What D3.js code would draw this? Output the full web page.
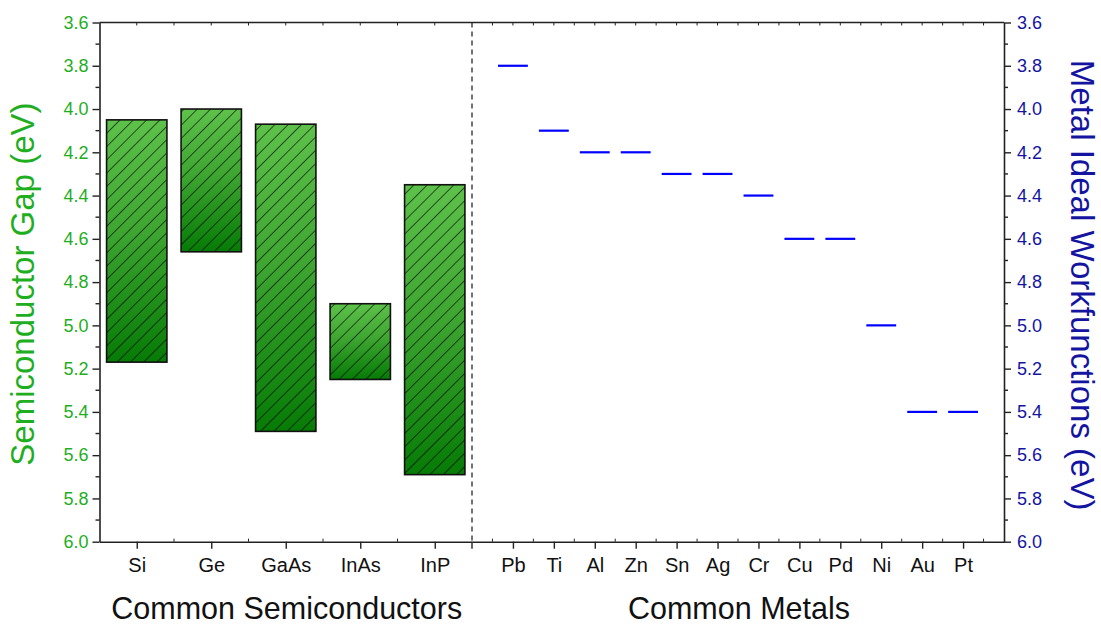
<!DOCTYPE html>
<html>
<head>
<meta charset="utf-8">
<script src="https://cdn.jsdelivr.net/npm/d3@7"></script>
<style>
  html, body { margin: 0; padding: 0; background: #fff; }
  svg { display: block; }
  text { font-family: "Liberation Sans", Arial, sans-serif; }
</style>
</head>
<body>
<svg id="chart" width="1101" height="624"></svg>
<script>
// ---- data ----
const semiconductors = ["Si", "Ge", "GaAs", "InAs", "InP"];
const gapTop = [4.05, 4.00, 4.07, 4.90, 4.35];
const gapBottom = [5.17, 4.66, 5.49, 5.25, 5.69];
const metals = ["Pb", "Ti", "Al", "Zn", "Sn", "Ag", "Cr", "Cu", "Pd", "Ni", "Au", "Pt"];
const workfunctions = [3.8, 4.1, 4.2, 4.2, 4.3, 4.3, 4.4, 4.6, 4.6, 5.0, 5.4, 5.4];
const yTickValues = [3.6, 3.8, 4.0, 4.2, 4.4, 4.6, 4.8, 5.0, 5.2, 5.4, 5.6, 5.8, 6.0];
const yMinorValues = [3.7, 3.9, 4.1, 4.3, 4.5, 4.7, 4.9, 5.1, 5.3, 5.5, 5.7, 5.9];

(function () {
// ---- layout ----
const pLeft = 99.5, pRight = 1004, pTop = 22.5, pBottom = 541.7, divider = 472;
const green = "#1fae1f", blue = "#1414a0", axisColor = "#222";

const svg = d3.select("#chart");
const defs = svg.append("defs");

const grad = defs.append("linearGradient")
  .attr("id", "barGrad").attr("x1", 0).attr("y1", 0).attr("x2", 0).attr("y2", 1);
grad.append("stop").attr("offset", "0%").attr("stop-color", "#5dc14a");
grad.append("stop").attr("offset", "45%").attr("stop-color", "#3fa632");
grad.append("stop").attr("offset", "100%").attr("stop-color", "#067b06");

const pat = defs.append("pattern")
  .attr("id", "hatch").attr("patternUnits", "userSpaceOnUse")
  .attr("width", 9.4).attr("height", 9.4)
  .attr("patternTransform", "rotate(45)");
pat.append("line").attr("x1", 0).attr("y1", 0).attr("x2", 0).attr("y2", 9.4)
  .attr("stroke", "#000").attr("stroke-width", 1.2);

// ---- scales ----
const y = d3.scaleLinear().domain([3.6, 6.0]).range([pTop, pBottom]);
const xS = d3.scalePoint().domain(semiconductors).range([pLeft, divider]).padding(0.5);
const xM = d3.scalePoint().domain(metals).range([divider, pRight]).padding(1);

// ---- bars ----
const barW = xS.step() * 0.81;
const bars = svg.append("g");
semiconductors.forEach((s, i) => {
  const x0 = xS(s) - barW / 2;
  const y0 = y(gapTop[i]), h = y(gapBottom[i]) - y(gapTop[i]);
  bars.append("rect").attr("x", x0).attr("y", y0).attr("width", barW).attr("height", h)
    .attr("fill", "url(#barGrad)");
  bars.append("rect").attr("x", x0).attr("y", y0).attr("width", barW).attr("height", h)
    .attr("fill", "url(#hatch)").attr("stroke", "#111").attr("stroke-width", 1.6);
});

// ---- metal workfunction lines ----
const lineW = xM.step() * 0.73;
svg.append("g").selectAll("line").data(metals).join("line")
  .attr("x1", d => xM(d) - lineW / 2).attr("x2", d => xM(d) + lineW / 2)
  .attr("y1", (d, i) => y(workfunctions[i])).attr("y2", (d, i) => y(workfunctions[i]))
  .attr("stroke", "#0000ff").attr("stroke-width", 2.2);

// ---- divider ----
svg.append("line").attr("x1", divider).attr("x2", divider).attr("y1", pTop).attr("y2", pBottom)
  .attr("stroke", "#444").attr("stroke-width", 1.5).attr("stroke-dasharray", "5,4");

// ---- axes ----
function styleAxis(g, color, size) {
  g.attr("font-size", size);
  g.select(".domain").attr("stroke", axisColor).attr("stroke-width", 1.6);
  g.selectAll(".tick line").attr("stroke", axisColor).attr("stroke-width", 1.4);
  g.selectAll(".tick text").attr("fill", color).attr("font-size", size)
    .attr("font-family", "Liberation Sans, Arial, sans-serif");
}

const yLeft = svg.append("g").attr("transform", `translate(${pLeft},0)`)
  .call(d3.axisLeft(y).tickValues(yTickValues).tickFormat(d3.format(".1f")).tickSize(7).tickPadding(4).tickSizeOuter(0));
styleAxis(yLeft, green, 18);
const yRight = svg.append("g").attr("transform", `translate(${pRight},0)`)
  .call(d3.axisRight(y).tickValues(yTickValues).tickFormat(d3.format(".1f")).tickSize(7).tickPadding(6).tickSizeOuter(0));
styleAxis(yRight, blue, 18);

// minor y ticks
[[pLeft, -4], [pRight, 4]].forEach(([x0, len]) => {
  svg.append("g").selectAll("line").data(yMinorValues).join("line")
    .attr("x1", x0).attr("x2", x0 + len).attr("y1", d => y(d)).attr("y2", d => y(d))
    .attr("stroke", axisColor).attr("stroke-width", 1.4);
});

// bottom axes
const xSAxis = svg.append("g").attr("transform", `translate(0,${pBottom})`)
  .call(d3.axisBottom(xS).tickSize(7).tickPadding(9).tickSizeOuter(0));
styleAxis(xSAxis, "#111", 20);
const xMAxis = svg.append("g").attr("transform", `translate(0,${pBottom})`)
  .call(d3.axisBottom(xM).tickSize(7).tickPadding(9).tickSizeOuter(0));
styleAxis(xMAxis, "#111", 20);
svg.append("line").attr("x1", divider).attr("x2", divider).attr("y1", pBottom).attr("y2", pBottom + 7)
  .attr("stroke", axisColor).attr("stroke-width", 1.4);

// top axis line
svg.append("line").attr("x1", pLeft).attr("x2", pRight).attr("y1", pTop).attr("y2", pTop)
  .attr("stroke", axisColor).attr("stroke-width", 1.6);

// minor x ticks
const minorX = semiconductors.slice(1).map(d => xS(d) - xS.step() / 2)
  .concat(metals.map(d => xM(d) - xM.step() / 2), [xM(metals[metals.length - 1]) + xM.step() / 2]);
const majorX = semiconductors.map(d => xS(d)).concat(metals.map(d => xM(d)));
svg.append("g").selectAll("line").data(minorX).join("line")
  .attr("x1", d => d).attr("x2", d => d).attr("y1", pBottom).attr("y2", pBottom - 3)
  .attr("stroke", axisColor).attr("stroke-width", 1);
svg.append("g").selectAll("line").data(minorX.concat(majorX)).join("line")
  .attr("x1", d => d).attr("x2", d => d).attr("y1", pTop).attr("y2", pTop + 3)
  .attr("stroke", axisColor).attr("stroke-width", 1);

// ---- titles ----
svg.append("text").attr("transform", `translate(34,${(pTop + pBottom) / 2 + 2}) rotate(-90)`)
  .attr("text-anchor", "middle").attr("font-size", 33).attr("fill", green)
  .text("Semiconductor Gap (eV)");
svg.append("text").attr("transform", `translate(1071,${(pTop + pBottom) / 2 + 3}) rotate(90)`)
  .attr("text-anchor", "middle").attr("font-size", 33).attr("fill", blue)
  .text("Metal Ideal Workfunctions (eV)");
svg.append("text").attr("x", (pLeft + divider) / 2 + 1).attr("y", 619)
  .attr("text-anchor", "middle").attr("font-size", 30.5).attr("fill", "#111")
  .text("Common Semiconductors");
svg.append("text").attr("x", (divider + pRight) / 2 + 1).attr("y", 619)
  .attr("text-anchor", "middle").attr("font-size", 30.5).attr("fill", "#111")
  .text("Common Metals");
})();
</script>
</body>
</html>
